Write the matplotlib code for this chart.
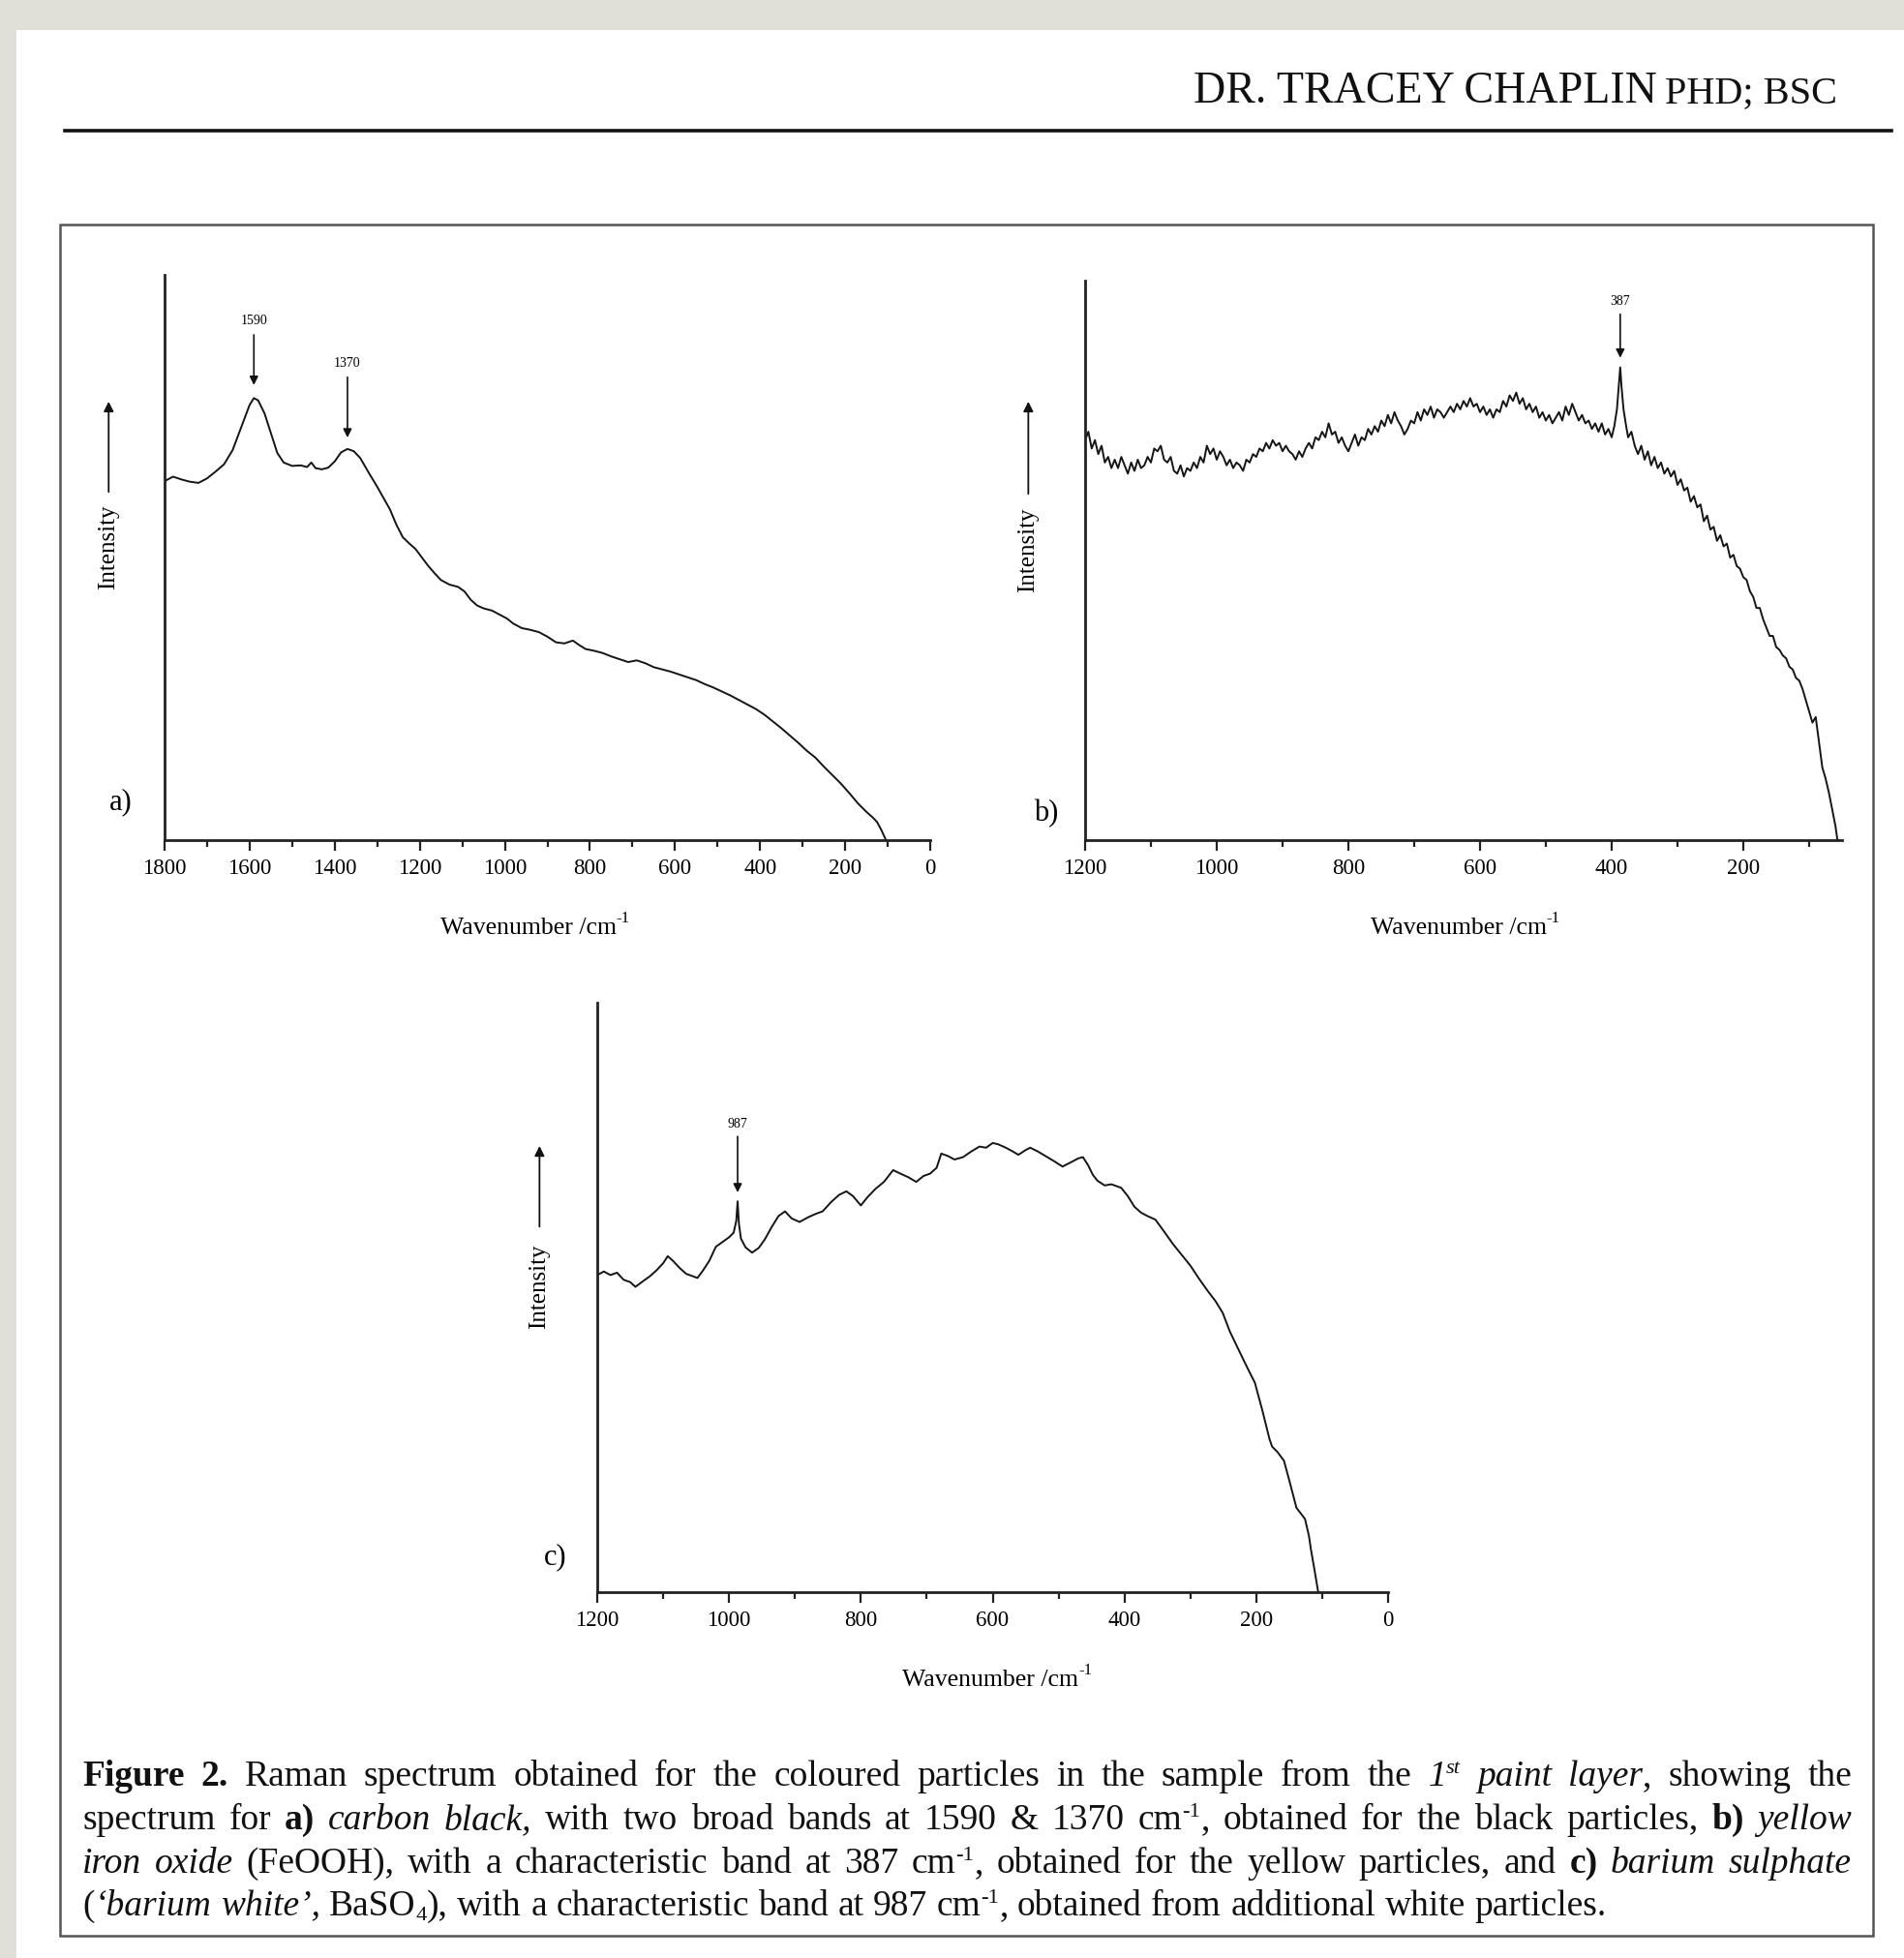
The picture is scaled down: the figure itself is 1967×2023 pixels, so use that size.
import matplotlib
matplotlib.use('Agg')
import matplotlib.pyplot as plt
from matplotlib.ticker import MultipleLocator
from matplotlib.patches import Rectangle

plt.rcParams['font.family'] = ['Liberation Serif', 'DejaVu Serif']
plt.rcParams['mathtext.fontset'] = 'stix'

# ---- data (intensity in % of axis height) ----
wn_a = [1800, 1780, 1760, 1740, 1720, 1700, 1680, 1660, 1640, 1620, 1600, 1590, 1580, 1565,
        1550, 1535, 1520, 1500, 1480, 1465, 1455, 1445, 1430, 1415, 1400, 1385, 1370, 1355,
        1340, 1320, 1300, 1285, 1270, 1255, 1240, 1225, 1210, 1195, 1180, 1165, 1150, 1130,
        1110, 1095, 1080, 1065, 1050, 1030, 1010, 995, 980, 960, 940, 920, 900, 880, 860,
        840, 825, 810, 790, 770, 750, 730, 710, 690, 670, 650, 630, 610, 590, 570, 550, 530,
        510, 490, 470, 450, 430, 410, 390, 370, 350, 330, 310, 290, 270, 250, 230, 210, 190,
        170, 150, 135, 125, 115, 104]
int_a = [63.5, 64.3, 63.8, 63.4, 63.2, 64.0, 65.2, 66.5, 69.0, 73.0, 77.0, 78.2, 77.8, 75.5,
         72.0, 68.5, 66.8, 66.2, 66.3, 66.0, 66.8, 65.8, 65.6, 65.9, 67.0, 68.6, 69.2, 68.8,
         67.6, 65.0, 62.5, 60.5, 58.5, 55.8, 53.6, 52.5, 51.5, 50.0, 48.5, 47.2, 46.0, 45.2,
         44.8, 44.0, 42.5, 41.5, 41.0, 40.6, 39.8, 39.2, 38.3, 37.5, 37.2, 36.8, 36.0, 35.0, 34.8,
         35.3, 34.5, 33.8, 33.5, 33.1, 32.5, 32.0, 31.5, 31.8, 31.3, 30.6, 30.2, 29.8, 29.3, 28.8,
         28.3, 27.6, 27.0, 26.3, 25.6, 24.8, 24.0, 23.2, 22.2, 21.0, 19.8, 18.5, 17.2, 15.8,
         14.6, 13.0, 11.5, 10.0, 8.3, 6.5, 5.0, 4.0, 3.2, 1.8, 0.0]

# panel b sampled every 5 cm-1 (noisy spectrum), with the sharp 387 band
wn_b = (list(range(1200, 399, -5)) + [396, 392, 389, 387, 385, 382, 378, 375]
        + list(range(370, 59, -5)) + [57])
int_b = [71.5, 73.0, 70.0, 71.5, 69.0, 70.5, 67.5, 68.5, 66.5, 68.0, 66.5,
         68.5, 67.0, 65.5, 67.5, 66.0, 68.0, 66.5, 67.0, 68.5, 67.5,
         70.0, 69.5, 70.5, 68.0, 67.5, 68.5, 66.0, 65.5, 67.0, 65.0,
         66.5, 66.0, 67.5, 66.5, 68.5, 67.5, 70.5, 69.0, 70.0, 68.0,
         69.5, 68.5, 67.0, 68.0, 66.5, 67.5, 67.0, 66.0, 68.0, 67.5,
         69.0, 68.5, 70.0, 69.5, 71.0, 70.0, 71.5, 70.5, 71.0, 69.5,
         70.5, 69.5, 69.0, 68.0, 69.5, 68.5, 70.0, 71.0, 70.0, 72.0,
         71.5, 73.0, 72.0, 74.5, 72.5, 73.0, 71.0, 72.0, 70.5, 69.5,
         71.0, 72.5, 70.5, 72.0, 71.5, 73.5, 72.5, 74.0, 73.0, 75.0,
         74.0, 76.0, 74.5, 76.5, 75.0, 74.0, 72.5, 73.5, 75.0, 74.5,
         76.5, 75.0, 77.0, 76.0, 77.5, 75.5, 77.0, 76.5, 75.5, 76.5,
         77.5, 76.5, 78.0, 77.0, 78.5, 77.5, 79.0, 77.5, 78.0, 76.5,
         77.5, 76.0, 77.0, 75.5, 77.0, 76.5, 78.5, 77.5, 79.5, 78.5,
         80.0, 78.0, 79.0, 77.0, 78.0, 76.5, 77.5, 75.5, 76.5, 75.0,
         76.0, 74.5, 75.5, 76.5, 75.0, 77.5, 76.0, 78.0, 76.5, 75.0,
         76.0, 74.5, 75.0, 73.5, 74.5, 73.0, 74.5, 72.5, 73.5, 72.0,
         74.0, 77.0, 81.5, 84.5, 81.0, 77.0, 74.0, 72.0,
         73.0, 70.5, 69.0, 70.5, 68.0, 69.5, 67.0, 68.5, 66.5, 67.5,
         65.5, 66.5, 65.0, 66.0, 63.5, 64.5, 62.5, 63.0, 60.5, 61.5,
         59.5, 60.0, 57.0, 58.0, 55.5, 56.0, 53.5, 54.5, 52.5, 53.0,
         50.5, 51.0, 49.0, 48.5, 47.0, 46.5, 44.5, 43.5, 41.5, 41.5,
         39.5, 38.0, 36.5, 36.5, 34.5, 34.0, 33.0, 32.5, 31.0, 30.5,
         29.0, 28.5, 27.0, 25.0, 23.0, 21.0, 22.0, 17.5, 13.0, 11.0,
         8.5, 5.5, 2.5, 0.0]

wn_c = [1200, 1190, 1180, 1170, 1160, 1150, 1142, 1130, 1120, 1110, 1100, 1093, 1085, 1075,
        1065, 1055, 1048, 1040, 1030, 1020, 1010, 1000, 993, 989, 987, 985, 982, 975, 965, 955,
        946, 935, 925, 915, 905, 893, 880, 868, 858, 845, 833, 822, 812, 800, 790, 778, 765,
        751, 740, 728, 716, 705, 695, 685, 678, 668, 658, 645, 632, 620, 610, 600, 592, 580,
        570, 561, 550, 543, 532, 520, 508, 494, 480, 470, 463, 455, 448, 441, 430, 420, 405,
        395, 385, 375, 365, 353, 340, 326, 313, 300, 287, 273, 262, 251, 240, 228, 215, 202,
        190, 180, 176, 168, 158, 150, 139, 130, 126, 120, 117, 112, 106]
int_c = [53.8, 54.4, 53.8, 54.2, 53.0, 52.6, 51.8, 52.8, 53.6, 54.6, 55.8, 57.0, 56.2, 55.0,
         54.0, 53.6, 53.3, 54.5, 56.2, 58.6, 59.4, 60.2, 61.0, 63.0, 66.3, 62.5, 60.0, 58.5,
         57.6, 58.4, 59.8, 62.0, 63.8, 64.6, 63.4, 62.8, 63.6, 64.2, 64.6, 66.2, 67.4, 68.0,
         67.2, 65.6, 67.0, 68.4, 69.6, 71.6, 71.0, 70.4, 69.6, 70.6, 71.0, 72.0, 74.4, 74.0,
         73.4, 73.8, 74.8, 75.6, 75.4, 76.2, 76.0, 75.4, 74.8, 74.2, 75.0, 75.4, 74.8, 74.0,
         73.2, 72.2, 73.0, 73.6, 73.8, 72.4, 70.8, 69.8, 69.0, 69.2, 68.6, 67.2, 65.4, 64.4,
         63.8, 63.2, 61.2, 59.0, 57.2, 55.4, 53.2, 51.0, 49.4, 47.4, 44.2, 41.4, 38.4, 35.5,
         30.5, 26.0, 24.7, 23.8, 22.3, 19.0, 14.3, 13.0, 12.4, 9.5, 7.2, 4.0, 0.0]

# peak labels: (wavenumber, text y, arrow tail y, arrow head y)
peaks_a = [(1590, 91.8, 89.4, 80.5), (1370, 84.3, 81.9, 71.2)]
peaks_b = [(387, 96.2, 94.0, 86.2)]
peaks_c = [(987, 79.4, 77.3, 67.8)]

W, H = 1967, 2023
fig = plt.figure(figsize=(W / 100, H / 100), dpi=100, facecolor='#e0e0d8')


def fx(px):
    return px / W


def fy(py):
    return 1 - py / H


# white page + header
fig.add_artist(Rectangle((fx(17), 0), fx(W - 17), fy(31), transform=fig.transFigure,
                         facecolor='white', edgecolor='none', zorder=0))
fig.add_artist(plt.Line2D([fx(67), fx(1954)], [fy(135), fy(135)], transform=fig.transFigure,
                          color='#111111', lw=2.6))
fig.text(fx(1712), fy(106), 'DR. TRACEY CHAPLIN', fontsize=33, ha='right', va='baseline',
         color='#111111')
fig.text(fx(1720), fy(106), 'PHD; BSC', fontsize=29, ha='left', va='baseline', color='#111111')

# figure frame
fig.add_artist(Rectangle((fx(62), fy(2000)), fx(1935) - fx(62), fy(232) - fy(2000),
                         transform=fig.transFigure, facecolor='none', edgecolor='#555555',
                         lw=1.8, zorder=1))


def make_axes(box, wn, inten, xlim, peaks, letter, letter_pos, int_x, arr_y, label_pos):
    l, r, t, b = box
    ax = fig.add_axes([fx(l), fy(b), fx(r) - fx(l), fy(t) - fy(b)])
    ax.set_facecolor('none')
    ax.plot(wn, inten, color='#151515', lw=1.4)
    ax.set_xlim(*xlim)
    ax.set_ylim(0, 100)
    for s in ['top', 'right']:
        ax.spines[s].set_visible(False)
    for s in ['left', 'bottom']:
        ax.spines[s].set_linewidth(2.0)
        ax.spines[s].set_color('#222222')
    ax.set_yticks([])
    ax.xaxis.set_major_locator(MultipleLocator(200))
    ax.xaxis.set_minor_locator(MultipleLocator(100))
    ax.tick_params(axis='x', which='major', direction='out', length=8, width=1.6,
                   labelsize=16.5, pad=6, color='#222222')
    ax.tick_params(axis='x', which='minor', direction='out', length=5, width=1.6,
                   color='#222222')
    ax.set_xlabel('Wavenumber /cm', fontsize=18.5)
    ax.xaxis.set_label_coords(label_pos[0], label_pos[1])
    ax.annotate('-1', xy=(1.0, 0.95), xycoords=ax.xaxis.label, fontsize=12,
                ha='left', va='center')
    for x, ty, y0, y1 in peaks:
        ax.text(x, ty, str(x), fontsize=10, ha='center', va='center')
        ax.annotate('', xy=(x, y1), xytext=(x, y0),
                    arrowprops=dict(arrowstyle='-|>', color='#111111', lw=1.2,
                                    mutation_scale=13, shrinkA=0, shrinkB=0))
    ax.text(letter_pos[0], letter_pos[1], letter, fontsize=22, ha='center', va='center',
            transform=ax.transAxes)
    ax.text(int_x, 0.518, 'Intensity', fontsize=18, rotation=90, ha='center', va='center',
            transform=ax.transAxes)
    ax.annotate('', xy=(int_x, arr_y[1]), xytext=(int_x, arr_y[0]), xycoords='axes fraction',
                arrowprops=dict(arrowstyle='-|>', color='#111111', lw=1.3,
                                mutation_scale=15, shrinkA=0, shrinkB=0))
    return ax


make_axes((170, 961, 284, 868), wn_a, int_a, (1800, 0), peaks_a, 'a)', (-0.057, 0.067),
          -0.073, (0.616, 0.776), (0.475, -0.137))
make_axes((1121, 1903, 290, 868), wn_b, int_b, (1200, 50), peaks_b, 'b)', (-0.051, 0.047),
          -0.075, (0.619, 0.784), (0.493, -0.138))
make_axes((617, 1434, 1036, 1645), wn_c, int_c, (1200, 0), peaks_c, 'c)', (-0.053, 0.059),
          -0.073, (0.62, 0.757), (0.497, -0.131))

# ---- caption (justified, mixed styles) ----
cap_lines = [
    [("Figure 2.", "b"),
     (" Raman spectrum obtained for the coloured particles in the sample from the ", "n"),
     ("1", "i"), ("st", "isup"), (" paint layer", "i"), (", showing the", "n")],
    [("spectrum for ", "n"), ("a)", "b"), (" carbon black,", "i"),
     (" with two broad bands at 1590 & 1370 cm", "n"), ("-1", "sup"),
     (", obtained for the black particles, ", "n"), ("b)", "b"), (" yellow", "i")],
    [("iron oxide", "i"), (" (FeOOH), with a characteristic band at 387 cm", "n"),
     ("-1", "sup"), (", obtained for the yellow particles, and ", "n"), ("c)", "b"),
     (" barium sulphate", "i")],
    [("(", "n"), ("\u2018barium white\u2019,", "i"), (" BaSO", "n"), ("4", "sub"),
     ("), with a characteristic band at 987 cm", "n"), ("-1", "sup"),
     (", obtained from additional white particles.", "n")],
]
cap_base = [1845, 1890, 1935, 1979]
cap_x0, cap_x1 = 85, 1913
cap_size = 27

styles = {
    'n': dict(weight='normal', style='normal', scale=1.0, dy=0),
    'b': dict(weight='bold', style='normal', scale=1.0, dy=0),
    'i': dict(weight='normal', style='italic', scale=1.0, dy=0),
    'sup': dict(weight='normal', style='normal', scale=0.6, dy=-13),
    'isup': dict(weight='normal', style='italic', scale=0.6, dy=-13),
    'sub': dict(weight='normal', style='normal', scale=0.6, dy=5),
}

renderer = fig.canvas.get_renderer()
tmp = fig.text(0, 0, 'a a', fontsize=cap_size)
tmp2 = fig.text(0, 0, 'aa', fontsize=cap_size)
space_w = (tmp.get_window_extent(renderer=renderer).width
           - tmp2.get_window_extent(renderer=renderer).width)
tmp.remove()
tmp2.remove()

for li, segs in enumerate(cap_lines):
    words = []
    pending = False
    for text, st in segs:
        parts = text.split(' ')
        for i, w in enumerate(parts):
            if i > 0:
                pending = True
            if w == '':
                continue
            words.append((w, st, pending))
            pending = False
    items = []
    for w, st, sp in words:
        s = styles[st]
        t = fig.text(0, fy(cap_base[li] + s['dy']), w, fontsize=cap_size * s['scale'],
                     fontweight=s['weight'], fontstyle=s['style'], ha='left', va='baseline',
                     color='#111111')
        wd = t.get_window_extent(renderer=renderer).width
        items.append((t, wd, sp))
    total = sum(wd for _, wd, _ in items)
    ngaps = sum(1 for k, (_, _, sp) in enumerate(items) if k > 0 and sp)
    gap = space_w
    if li < len(cap_lines) - 1 and ngaps > 0:
        gap = max((cap_x1 - cap_x0 - total) / ngaps, space_w * 0.6)
    x = cap_x0
    for k, (t, wd, sp) in enumerate(items):
        if k > 0 and sp:
            x += gap
        t.set_x(fx(x))
        x += wd

fig.savefig('out.png', dpi=100, facecolor=fig.get_facecolor())
